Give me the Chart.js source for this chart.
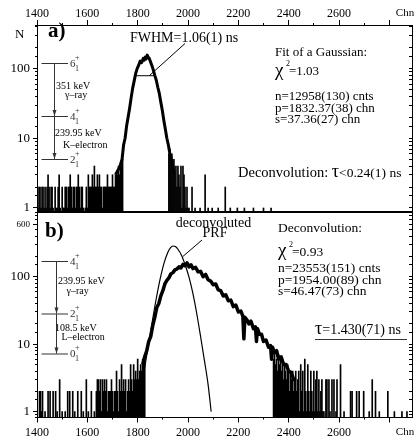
<!DOCTYPE html>
<html lang="en">
<head>
<meta charset="UTF-8" />
<title>Lifetime spectra</title>
<script src="https://cdn.jsdelivr.net/npm/chart.js"></script>
<style>
  * { margin: 0; padding: 0; box-sizing: border-box; }
  body { width: 417px; height: 438px; background: #fff; position: relative; overflow: hidden; }
  canvas { position: absolute; left: 0; }
  #chartA { top: 0; }
  #chartB { top: 212px; }
</style>
</head>
<body>
<canvas id="chartA" width="417" height="213"></canvas>
<canvas id="chartB" width="417" height="226"></canvas>
<script>
// axis ticks
const xTicks = [1400, 1600, 1800, 2000, 2200, 2400, 2600];
const xMajor = [1400, 1600, 1800, 2000, 2200, 2400, 2600, 2800];
const xMinor = [1500, 1700, 1900, 2100, 2300, 2500, 2700];
const yTicksA = [1, 10, 100];
const yTicksB = [1, 10, 100, 600];

// ---- panel a) ----
// low-count region, 4-channel bins starting at 1400
const binA0 = 1400, binW = 4;
const lowCntA = [2,1,2,2,1,2,2,1,2,1,2,3,2,1,2,2,
  1,0,2,1,1,2,3,1,0,2,1,1,
  2,2,1,2,2,3,2,1,2,2,1,2,2,3,2,1,2,2,
  1,0,1,2,1,
  3,2,2,2,3,2,4,2,2,3,2,3,2,2,1,2,2,2,2,3,2,2,2,2,3,2,2,3,3];
// single channels at the edges of the peak and in the right tail
const edgeChA = [1720,1724,1728,1732,1736,1740,
  1924,1928,1932,1936,1940,1944,1948,1952,1956,1960,1964,1968,1972,1976,1980,1984,1988,1992,1996,2000,2004,
  2016,2028,2048,2068,2080,2096,2120,2148,2168,2196,2224,2260,2300,2330];
const edgeCntA = [3,4,3,4,4,5,
  6,7,5,6,4,5,3,4,2,4,3,2,4,1,4,3,2,1,2,1,1,
  2,1,1,3,1,1,1,2,1,1,1,1,1,1];
// peak
const peakChA = [1712,1722,1730,1738,1744,1750,1756,1762,1768,1774,1780,1786,1792,1798,1804,1810,1816,1822,1826,1830,
  1834,1838,1842,1846,1850,1856,1862,1868,1874,1880,1886,1892,1898,1904,1910,1916,1922,1928,1934,1940,1946];
const peakCntA = [3,3.5,4,5,8,10,15,20,27,38,52,66,85,100,112,128,122,140,132,146,
  138,156,145,140,128,112,96,80,68,54,44,33,25,18,13.5,10,8,6,5,4,3];
const fwhmChA = [1791, 1864];
const fwhmCntA = 79;

// ---- panel b) ----
const lowChB = [1400,1410,1414,1418,1422,1432,1444,1452,1464,1474,1480,1490,1500,1512,1522,1530,1542,1550,1562,1576,1584,1596,1604,1616,1628,1636];
const lowCntB = [1,2,2,1,2,1,2,2,2,2,1,3,1,1,2,2,2,1,2,2,1,3,1,2,1,2];
const binB0 = 1640;
const denseCntB = [3,3,2,3,1,3,2,3,2,3, 1,2,2,2,3,2,1,2,2,4, 2,1,3,2,5,2,3,2,3,1, 2,3,2,5,3,2,5,3,4,3, 6,3,4,5,4,6,5,7];
const tailChB = [2340,2344,2348,2352,2356,2360,2364,2368,2372,2376,2380,2384,2388,2392,2396,2400,2404,2408,2412,2416,
  2420,2424,2428,2432,2436,2440,2444,2448,2452,2456,2460,2464,2468,2472,2476,2480,2484,2488,2492,2496,
  2500,2504,2508,2512,2516,2520,2524,2528,2532,2536,2540,
  2548,2552,2560,2564,2572,2580,2588,2592,2606,2620,
  2646,2652,2670,2680,2698,2720,2732,2745,2760,2794,2820,2850,2870];
const tailCntB = [6,7,5,6,4,7,5,6,4,5,3,5,4,3,5,4,2,4,3,4,
  2,3,4,2,3,4,1,5,2,4,1,6,2,1,5,2,1,4,2,1,
  4,1,3,4,1,3,1,2,3,1,1,
  3,3,3,1,3,3,1,3,5,1,
  2,2,2,2,2,1,3,2,1,2,1,1,1];
const peakChB = [1820,1828,1836,1844,1852,1860,1868,1876,1884,1892,1900,1908,1916,1924,1932,1940,1948,1956,1964,1972,
  1980,1988,1996,2004,2012,2020,2030,2040,2050,2060,2070,2080,2090,2100,2110,2120,2130,2140,2150,2160,
  2170,2180,2190,2200,2210,2218,2222,2226,2234,2242,2250,2260,2268,2272,2276,2284,2292,2300,2310,2320,
  2328,2332,2336,2344,2352,2360,2370,2380,2390,2400,2410,2420,2430];
const peakCntB = [5,6.5,8,11,13,19,25,35,40,52,62,78,88,96,110,115,126,130,140,135,
  152,145,160,140,150,132,138,118,120,100,108,90,86,76,78,64,62,52,54,44,
  45,36,38,30,31,26,12,25,23,20,22,17,18,11,17,14,14,11,11.5,9,
  9.5,6,9,7.5,8,6,6.5,5,5,4,3.8,3,3];
const prfCh = [1797,1800,1815,1830,1845,1860,1875,1890,1905,1920,1930,1940,1950,1960,1975,1990,2005,2020,2035,2050,2065,2080,2092];
const prfCnt = [0.9,1,2.2,5,11,24,50,95,160,230,268,285,280,255,205,145,95,55,28,13,5.8,2.5,1.0];

const X_MIN = 1400, X_MAX = 2890;
const SERIF = '"Liberation Serif", "Times New Roman", serif';

Chart.defaults.font.family = SERIF;
Chart.defaults.color = '#000';
Chart.defaults.animation = false;

const pts = (xs, ys) => xs.map((x, i) => ({ x, y: ys[i] }));
const none = 'rgba(0,0,0,0)';
const noPad = s => { s.paddingTop = 0; s.paddingBottom = 0; s.paddingLeft = 0; s.paddingRight = 0; };

function xAxes(pos, h, pad) {
  return {
    x: {
      type: 'linear', position: pos, min: X_MIN, max: X_MAX, offset: false, weight: 1,
      afterBuildTicks: s => { s.ticks = xMajor.map(v => ({ value: v })); },
      afterFit: s => { s.height = h; noPad(s); },
      ticks: { autoSkip: false, maxRotation: 0, minRotation: 0, padding: pad, font: { size: 12 },
        callback: v => xTicks.includes(v) ? String(v) : '' },
      grid: { drawOnChartArea: false, offset: false, tickLength: 5, tickColor: '#000' },
      border: { color: '#000' }
    },
    xm: {
      type: 'linear', position: pos, min: X_MIN, max: X_MAX, offset: false, weight: 0,
      afterBuildTicks: s => { s.ticks = xMinor.map(v => ({ value: v })); },
      afterFit: s => { s.height = 0; noPad(s); },
      ticks: { display: false, autoSkip: false },
      grid: { drawOnChartArea: false, offset: false, tickLength: 2, tickColor: '#000' },
      border: { display: false }
    }
  };
}

function yAxes(min, max, labels) {
  return {
    y: {
      type: 'logarithmic', position: 'left', min, max, weight: 1,
      afterFit: s => { s.width = 37; noPad(s); },
      ticks: { autoSkip: false, padding: 3,
        font: c => ({ size: c.tick && c.tick.value === 600 ? 9 : 13 }),
        callback: v => labels.includes(v) ? String(v) : '' },
      grid: { drawOnChartArea: false, tickLength: 4,
        tickColor: c => c.tick && labels.includes(c.tick.value) ? '#000' : none },
      border: { color: '#000' }
    },
    ym: {
      type: 'logarithmic', position: 'left', min, max, weight: 0,
      afterFit: s => { s.width = 0; noPad(s); },
      ticks: { display: false, autoSkip: false },
      grid: { drawOnChartArea: false, tickLength: 2, tickColor: '#000' },
      border: { display: false }
    },
    yr: {
      type: 'logarithmic', position: 'right', min, max,
      afterFit: s => { s.width = 0; noPad(s); },
      ticks: { display: false, autoSkip: false },
      grid: { drawOnChartArea: false, tickLength: -3, tickColor: '#000' },
      border: { color: '#000' }
    }
  };
}

// text helpers
function put(ctx, s, x, y, size, style, align) {
  ctx.font = (style || '') + ' ' + size + 'px ' + SERIF;
  ctx.textAlign = align || 'left';
  ctx.textBaseline = 'middle';
  ctx.fillText(s, x, y);
  return ctx.measureText(s).width;
}
function level(ctx, y, x1, x2, spin) {
  ctx.beginPath(); ctx.moveTo(x1, y); ctx.lineTo(x2, y); ctx.stroke();
  const w = put(ctx, spin, x2 + 2, y + 0.5, 11);
  put(ctx, '+', x2 + 2 + w - 0.5, y - 6, 8);
  put(ctx, '1', x2 + 2 + w - 0.5, y + 5, 8);
}
function arrow(ctx, x, y1, y2) {
  ctx.beginPath(); ctx.moveTo(x, y1); ctx.lineTo(x, y2); ctx.stroke();
  ctx.beginPath(); ctx.moveTo(x - 2, y2 - 6); ctx.lineTo(x + 2, y2 - 6); ctx.lineTo(x, y2); ctx.closePath(); ctx.fill();
}
function chi(ctx, x, y, val, size) {
  put(ctx, 'χ', x, y, 19);
  put(ctx, '2', x + 11, y - 7, 8);
  put(ctx, val, x + 14, y + 1, size);
}

const separator = edge => ({
  id: 'separator',
  afterDraw(chart) {
    const { ctx, chartArea: a } = chart;
    ctx.save();
    ctx.strokeStyle = '#000';
    ctx.lineWidth = 2;
    const y = edge === 'bottom' ? a.bottom : a.top;
    ctx.beginPath(); ctx.moveTo(a.left, y); ctx.lineTo(a.right, y); ctx.stroke();
    ctx.restore();
  }
});

const notesA = {
  id: 'notesA',
  afterDraw(chart) {
    const { ctx, scales } = chart;
    ctx.save();
    ctx.fillStyle = '#000';
    ctx.strokeStyle = '#000';
    ctx.lineWidth = 1;
    put(ctx, 'N', 15, 35, 13);
    put(ctx, 'a)', 48, 32, 21, 'bold');
    put(ctx, 'Chn', 405, 13.5, 11, '', 'center');
    // FWHM pointer
    put(ctx, 'FWHM=1.06(1) ns', 130, 38, 14);
    ctx.beginPath();
    ctx.moveTo(185, 43.5);
    ctx.lineTo(scales.x.getPixelForValue(1846), scales.y.getPixelForValue(fwhmCntA));
    ctx.stroke();
    // level scheme
    ctx.strokeStyle = '#333'; ctx.fillStyle = '#333';
    level(ctx, 63.5, 41.5, 68, '6');
    level(ctx, 116.5, 41.5, 68, '4');
    level(ctx, 159.5, 41.5, 68, '2');
    arrow(ctx, 54.5, 63.5, 116);
    arrow(ctx, 54.5, 116.5, 159);
    ctx.fillStyle = '#000';
    put(ctx, '351 keV', 56, 86, 10);
    put(ctx, 'γ–ray', 65, 95, 10);
    put(ctx, '239.95 keV', 55, 133.5, 10);
    put(ctx, 'K–electron', 63, 145.5, 10);
    // fit results
    put(ctx, 'Fit of a Gaussian:', 275, 53, 13);
    chi(ctx, 275, 71, '=1.03', 13);
    put(ctx, 'n=12958(130) cnts', 275, 96.5, 13);
    put(ctx, 'p=1832.37(38) chn', 275, 108.5, 13);
    put(ctx, 's=37.36(27) chn', 275, 120, 13);
    let x = 238;
    x += put(ctx, 'Deconvolution: ', x, 173.5, 14.5);
    x += put(ctx, 'τ', x, 172.5, 18);
    put(ctx, '<0.24(1) ns', x, 173.5, 13.5);
    ctx.restore();
  }
};

const notesB = {
  id: 'notesB',
  afterDraw(chart) {
    const { ctx, scales } = chart;
    ctx.save();
    ctx.fillStyle = '#000';
    ctx.strokeStyle = '#000';
    ctx.lineWidth = 1;
    put(ctx, 'b)', 45, 19.5, 21, 'bold');
    put(ctx, 'Chn', 405, 220.5, 11, '', 'center');
    put(ctx, 'deconvoluted', 213.5, 11, 14, '', 'center');
    put(ctx, 'PRF', 215, 21.5, 14, '', 'center');
    ctx.beginPath();
    ctx.moveTo(202, 28);
    ctx.lineTo(scales.x.getPixelForValue(1980), scales.y.getPixelForValue(200));
    ctx.stroke();
    // level scheme
    ctx.strokeStyle = '#333'; ctx.fillStyle = '#333';
    level(ctx, 49.5, 41.5, 68, '4');
    level(ctx, 102, 41.5, 68, '2');
    level(ctx, 142, 41.5, 68, '0');
    arrow(ctx, 56.5, 49.5, 101.5);
    arrow(ctx, 56.5, 102, 141.5);
    ctx.fillStyle = '#000';
    put(ctx, '239.95 keV', 58, 69.5, 10);
    put(ctx, 'γ–ray', 66.5, 79.5, 10);
    put(ctx, '108.5 keV', 55, 116, 10);
    put(ctx, 'L–electron', 61.5, 125.5, 10);
    // deconvolution results
    put(ctx, 'Deconvolution:', 278, 16.5, 13.5);
    chi(ctx, 278, 39.5, '=0.93', 13.5);
    put(ctx, 'n=23553(151) cnts', 278, 56.5, 13.5);
    put(ctx, 'p=1954.00(89) chn', 278, 68, 13.5);
    put(ctx, 's=46.47(73) chn', 278, 79.5, 13.5);
    const w = put(ctx, 'τ', 315, 117, 18);
    put(ctx, '=1.430(71) ns', 315 + w, 118, 14);
    ctx.beginPath(); ctx.moveTo(315, 127.5); ctx.lineTo(407, 127.5); ctx.stroke();
    ctx.restore();
  }
};

const barsA = [
  ...lowCntA.map((c, i) => ({ x: binA0 + i * binW, y: c })),
  ...pts(edgeChA, edgeCntA)
].filter(p => p.y > 0);

const barsB = [
  ...pts(lowChB, lowCntB),
  ...denseCntB.map((c, i) => ({ x: binB0 + i * binW, y: c })),
  ...pts(tailChB, tailCntB)
].filter(p => p.y > 0);

const common = {
  responsive: false,
  devicePixelRatio: 1,
  animation: false,
  events: [],
  plugins: { legend: { display: false }, tooltip: { enabled: false } }
};

new Chart(document.getElementById('chartA'), {
  type: 'bar',
  data: {
    datasets: [
      { type: 'line', data: pts(peakChA, peakCntA), borderColor: '#000', borderWidth: 3,
        pointRadius: 0, tension: 0, borderJoinStyle: 'round', order: 1 },
      { type: 'line', data: pts(fwhmChA, [fwhmCntA, fwhmCntA]), borderColor: '#000', borderWidth: 1,
        pointRadius: 0, order: 0 },
      { type: 'bar', data: barsA, backgroundColor: '#000', barThickness: 1, borderWidth: 0, order: 3 }
    ]
  },
  options: {
    ...common,
    layout: { padding: { left: 0, right: 5, top: 0, bottom: 1 } },
    scales: { ...xAxes('top', 25, -1), ...yAxes(0.876, 422, yTicksA) }
  },
  plugins: [separator('bottom'), notesA]
});

new Chart(document.getElementById('chartB'), {
  type: 'bar',
  data: {
    datasets: [
      { type: 'line', data: pts(prfCh, prfCnt), borderColor: '#000', borderWidth: 1.2,
        pointRadius: 0, cubicInterpolationMode: 'monotone', order: 0 },
      { type: 'line', data: pts(peakChB, peakCntB), borderColor: '#000', borderWidth: 3.5,
        pointRadius: 0, tension: 0, borderJoinStyle: 'round', order: 1 },
      { type: 'bar', data: barsB, backgroundColor: '#000', barThickness: 1, borderWidth: 0, order: 3 }
    ]
  },
  options: {
    ...common,
    layout: { padding: { left: 0, right: 5, top: 0, bottom: 0 } },
    scales: { ...xAxes('bottom', 20.5, 3), ...yAxes(0.82, 909, yTicksB) }
  },
  plugins: [separator('top'), notesB]
});
</script>
</body>
</html>
